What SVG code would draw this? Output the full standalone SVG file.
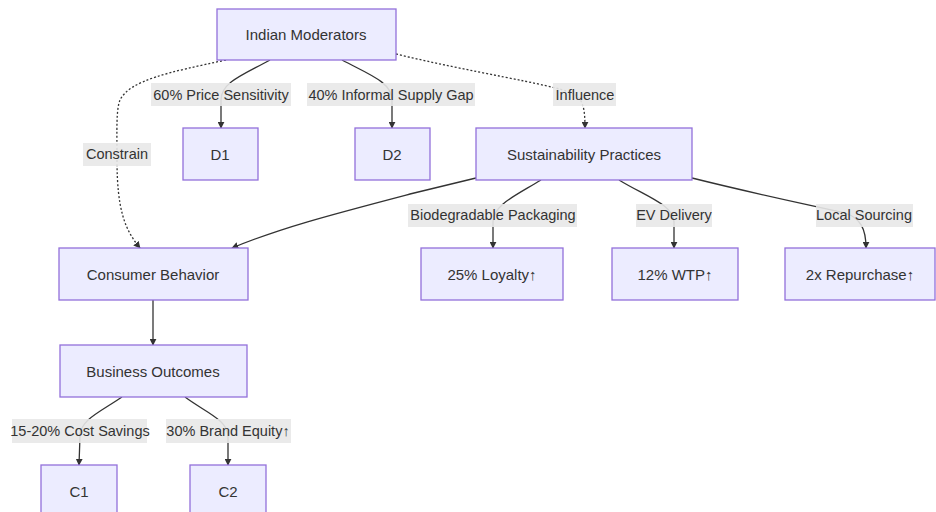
<svg xmlns="http://www.w3.org/2000/svg" width="936" height="512" viewBox="0 0 936 512">
<defs>
<marker id="arr" viewBox="0 0 10 10" refX="9" refY="5" markerWidth="7" markerHeight="7" markerUnits="userSpaceOnUse" orient="auto"><path d="M0,0 L10,5 L0,10 z" fill="#333"/></marker>
<style>
.node rect{fill:#ECECFF;stroke:#9370DB;stroke-width:1.3}
.node text{font-family:"Liberation Sans",Arial,sans-serif;font-size:15px;fill:#333;text-anchor:middle;dominant-baseline:central}
.edge{fill:none;stroke:#333;stroke-width:1.3}
.dot{stroke-dasharray:2 2}
.lbl rect{fill:#E8E8E8;opacity:0.9}
.lbl text{font-family:"Liberation Sans",Arial,sans-serif;font-size:14.5px;fill:#333;text-anchor:middle;dominant-baseline:central}
</style>
</defs>
<rect width="936" height="512" fill="#fff"/>
<g id="connectors">
<path class="edge" d="M270,60 C245,74 221,82 221,100 L221,128" marker-end="url(#arr)"/>
<path class="edge" d="M342,60 C368,74 392,82 392,100 L392,128" marker-end="url(#arr)"/>
<path class="edge dot" d="M396,54 C470,72 550,84 572,93 C583,98 585,108 585,128" marker-end="url(#arr)"/>
<path class="edge dot" d="M226,60 C170,72 130,80 120,100 C116,110 117,130 117,160 C117,210 125,230 140,248" marker-end="url(#arr)"/>
<path class="edge" d="M476,178 L410,194 C330,215 280,228 232,248" marker-end="url(#arr)"/>
<path class="edge" d="M541,180 C515,196 493,205 493,222 L493,248" marker-end="url(#arr)"/>
<path class="edge" d="M619,180 C645,196 674,205 674,222 L674,248" marker-end="url(#arr)"/>
<path class="edge" d="M692,178 C760,195 810,205 845,213 C860,218 866,228 866,248" marker-end="url(#arr)"/>
<path class="edge" d="M153,300 L153,345" marker-end="url(#arr)"/>
<path class="edge" d="M122,397 C100,412 80,420 80,436 L79,465" marker-end="url(#arr)"/>
<path class="edge" d="M185,397 C205,412 228,420 228,436 L228,465" marker-end="url(#arr)"/>
</g>
<g id="edge-labels">
<g class="lbl"><rect x="151" y="83" width="140" height="23"/><text x="221" y="95">60% Price Sensitivity</text></g>
<g class="lbl"><rect x="307" y="83" width="168" height="23"/><text x="391" y="95">40% Informal Supply Gap</text></g>
<g class="lbl"><rect x="553" y="83" width="63" height="23"/><text x="585" y="95">Influence</text></g>
<g class="lbl"><rect x="83" y="143" width="68" height="23"/><text x="117" y="154">Constrain</text></g>
<g class="lbl"><rect x="408" y="204" width="169" height="23"/><text x="493" y="215">Biodegradable Packaging</text></g>
<g class="lbl"><rect x="636" y="204" width="76" height="23"/><text x="674" y="215">EV Delivery</text></g>
<g class="lbl"><rect x="816" y="204" width="97" height="23"/><text x="864" y="215">Local Sourcing</text></g>
<g class="lbl"><rect x="12" y="419" width="135" height="24"/><text x="80" y="431">15-20% Cost Savings</text></g>
<g class="lbl"><rect x="166" y="419" width="125" height="24"/><text x="228" y="431">30% Brand Equity↑</text></g>
</g>
<g id="IM" class="node"><rect x="217" y="9" width="179" height="51"/><text x="306" y="34">Indian Moderators</text></g>
<g id="D1" class="node"><rect x="183" y="128" width="75" height="52"/><text x="220" y="154">D1</text></g>
<g id="D2" class="node"><rect x="355" y="128" width="75" height="52"/><text x="392" y="154">D2</text></g>
<g id="SP" class="node"><rect x="476" y="128" width="216" height="52"/><text x="584" y="154">Sustainability Practices</text></g>
<g id="CB" class="node"><rect x="59" y="248" width="189" height="52"/><text x="153" y="274">Consumer Behavior</text></g>
<g id="L25" class="node"><rect x="421" y="248" width="142" height="52"/><text x="492" y="274">25% Loyalty↑</text></g>
<g id="WTP" class="node"><rect x="612" y="248" width="126" height="52"/><text x="675" y="274">12% WTP↑</text></g>
<g id="REP" class="node"><rect x="785" y="248" width="150" height="52"/><text x="860" y="274">2x Repurchase↑</text></g>
<g id="BO" class="node"><rect x="60" y="345" width="187" height="52"/><text x="153" y="371">Business Outcomes</text></g>
<g id="C1" class="node"><rect x="41" y="465" width="76" height="52"/><text x="79" y="491">C1</text></g>
<g id="C2" class="node"><rect x="190" y="465" width="76" height="52"/><text x="228" y="491">C2</text></g>
</svg>
